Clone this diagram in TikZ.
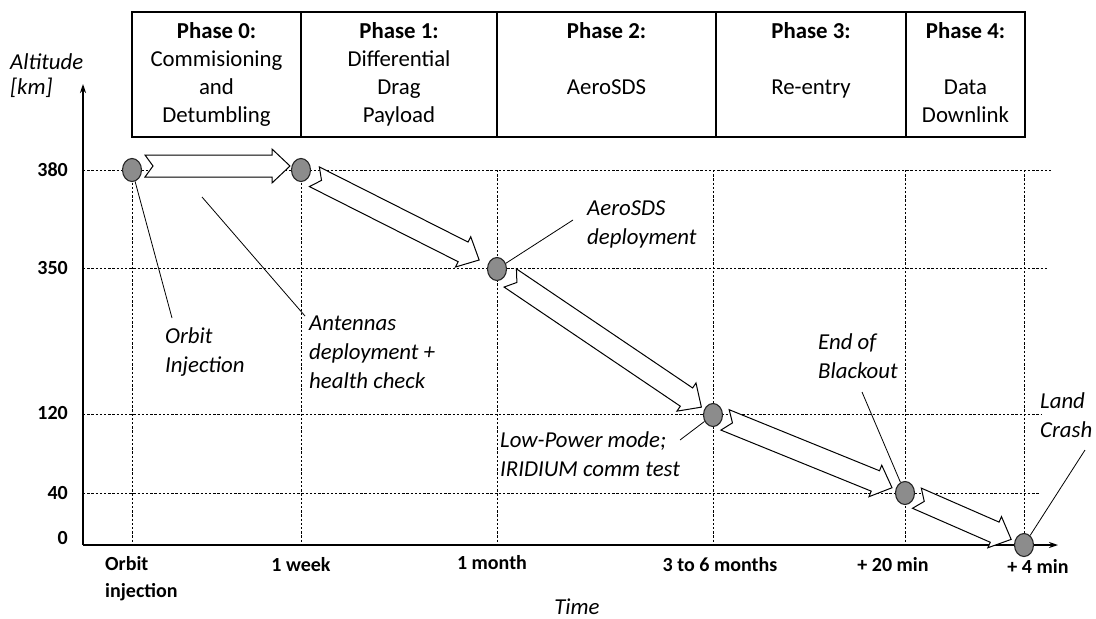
\documentclass[tikz,border=0pt]{standalone}
\usepackage{fontspec}
\setmainfont{Carlito}
\usetikzlibrary{calc,arrows.meta,shapes.geometric}
\pgfdeclarelayer{bg}
\pgfdeclarelayer{mid}
\pgfsetlayers{bg,mid,main}
\tikzset{
  gridline/.style={line width=0.9pt, dash pattern=on 2.4pt off 1.8pt},
  axisline/.style={line width=1.2pt, -{Stealth[length=9pt,width=6pt]}},
  phasebox/.style={draw, line width=1.1pt, minimum height=125pt, inner sep=0pt, align=center, font=\fontsize{22.8}{28}\selectfont},
  event/.style={ellipse, draw=black!85, fill=black!45, line width=1.1pt, minimum width=19pt, minimum height=23pt, inner sep=0pt},
  ann/.style={align=left, font=\fontsize{22.8}{29}\selectfont\itshape, inner sep=0pt},
  ticklbl/.style={font=\fontsize{20}{27}\selectfont\bfseries, inner sep=0pt},
  leader/.style={line width=0.8pt},
  fatarrow/.style={draw, line width=1pt, fill=white, line join=miter},
}
% #1 from node, #2 to node, #3 tail gap, #4 tip gap, #5 sideways offset
\newcommand\blockarrow[5]{%
  \path[fatarrow] let \p1=(#1), \p2=(#2),
     \n1={atan2(\y2-\y1,\x2-\x1)}, \n2={veclen(\x2-\x1,\y2-\y1)},
     \n3={#3}, \n4={\n2-#4}, \n5={\n2-#4-18}, \n6={#3+8}
   in [shift={(\p1)}, rotate=\n1, yshift=#5]
   (\n3,11) -- (\n5,11) -- (\n5,17) -- (\n4,0) -- (\n5,-17) -- (\n5,-11) -- (\n3,-11) -- (\n6,0) -- cycle;
}
\begin{document}
\begin{tikzpicture}[x=1pt,y=-1pt]
\useasboundingbox (0,0) rectangle (1096,619);

% event dots
\node[event] (d0) at (132,170) {};
\node[event] (d1) at (301,170) {};
\node[event] (d2) at (497,269) {};
\node[event] (d3) at (713,415) {};
\node[event] (d4) at (905,493) {};
\node[event] (d5) at (1024,545) {};

% grid and axes
\begin{pgfonlayer}{bg}
  \draw[gridline] (83,170) -- (1052,170);
  \draw[gridline] (83,268) -- (1048,268);
  \draw[gridline] (83,414) -- (1042,414);
  \draw[gridline] (83,493) -- (1040,493);
  \draw[gridline] (132,170) -- (132,545);
  \draw[gridline] (301,170) -- (301,545);
  \draw[gridline] (497,170) -- (497,545);
  \draw[gridline] (713,170) -- (713,545);
  \draw[gridline] (905,170) -- (905,545);
  \draw[gridline] (1024,170) -- (1024,545);
  \coordinate (O) at (83,545);
  \coordinate (ytop) at (83,84);
  \coordinate (xend) at (1058,545);
  \draw[axisline] (O) -- (ytop);
  \draw[axisline] (O) -- (xend);
\end{pgfonlayer}

% phase boxes
\node[phasebox, minimum width=169pt] (p0) at (216.5,74.5)
  {\strut\textbf{Phase 0:}\\\strut Commisioning\\\strut and\\\strut Detumbling};
\node[phasebox, minimum width=196pt] (p1) at (399,74.5)
  {\strut\textbf{Phase 1:}\\\strut Differential\\\strut Drag\\\strut Payload};
\node[phasebox, minimum width=219pt] (p2) at (606.5,74.5)
  {\strut\textbf{Phase 2:}\\\strut\\\strut AeroSDS\\\strut};
\node[phasebox, minimum width=190pt] (p3) at (811,74.5)
  {\strut\textbf{Phase 3:}\\\strut\\\strut Re-entry\\\strut};
\node[phasebox, minimum width=119pt] (p4) at (965.5,74.5)
  {\strut\textbf{Phase 4:}\\\strut\\\strut Data\\\strut Downlink};

% axis titles
\node[ann, anchor=west, font=\fontsize{22.8}{25}\selectfont\itshape] (ylab) at (10,75.5) {Altitude\\{[km]}};
\node[ann] (xlab) at (577,607) {Time};

% y tick labels
\node[ticklbl, anchor=east] (y380) at (68,170) {380};
\node[ticklbl, anchor=east] (y350) at (68,268) {350};
\node[ticklbl, anchor=east] (y120) at (68,413) {120};
\node[ticklbl, anchor=east] (y40) at (68,493) {40};
\node[ticklbl, anchor=east] (y0) at (68,538) {0};

% x tick labels
\node[ticklbl, anchor=west, align=left] (t0) at (105,579) {Orbit\\injection};
\node[ticklbl] (t1) at (301,565) {1 week};
\node[ticklbl] (t2) at (492,563) {1 month};
\node[ticklbl] (t3) at (720,565) {3 to 6 months};
\node[ticklbl] (t4) at (893,565) {+ 20 min};
\node[ticklbl] (t5) at (1038,566) {+ 4 min};

% annotations
\node[ann, anchor=west] (aOrbit) at (165,352) {Orbit\\Injection};
\node[ann, anchor=west] (aAnt) at (309,352) {Antennas\\deployment +\\health check};
\node[ann, anchor=west] (aAero) at (587,224.5) {AeroSDS\\deployment};
\node[ann, anchor=west] (aLow) at (500,454) {Low-Power mode;\\IRIDIUM comm test};
\node[ann, anchor=west] (aEnd) at (818,356) {End of\\Blackout};
\node[ann, anchor=west] (aLand) at (1040,415) {Land\\Crash};

\begin{pgfonlayer}{mid}
  % block arrows between events
  \blockarrow{d0}{d1}{13}{11}{4pt}
  \blockarrow{d1}{d2}{15}{20}{0pt}
  \blockarrow{d2}{d3}{16}{14}{0pt}
  \blockarrow{d3}{d4}{13}{14}{0pt}
  \blockarrow{d4}{d5}{13}{14}{0pt}
  % leader lines
  \coordinate (lOrbit) at (172,318);
  \coordinate (lAntA) at (305,316);
  \coordinate (lAntB) at (202,197);
  \coordinate (lAero) at (573,220);
  \coordinate (lLow) at (680,440);
  \coordinate (lEnd) at (862,392);
  \coordinate (lLand) at (1085,450);
  \draw[leader] (lOrbit) -- (d0);
  \draw[leader] (lAntA) -- (lAntB);
  \draw[leader] (lAero) -- (d2);
  \draw[leader] (lLow) -- (d3);
  \draw[leader] (lEnd) -- (d4);
  \draw[leader] (lLand) -- (d5);
\end{pgfonlayer}
\end{tikzpicture}
\end{document}
